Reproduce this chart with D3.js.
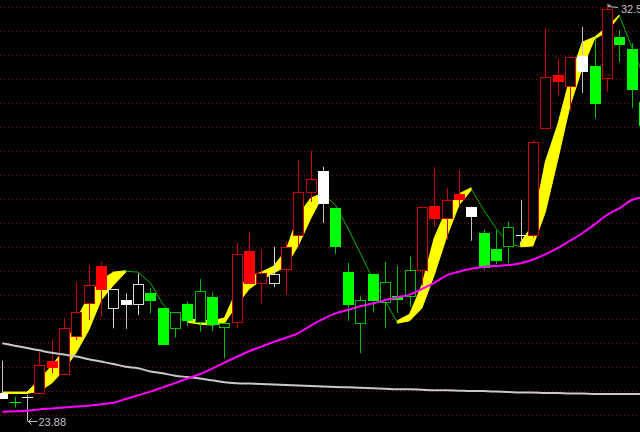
<!DOCTYPE html>
<html>
<head>
<meta charset="utf-8">
<script src="https://cdn.jsdelivr.net/npm/d3@7"></script>
<style>
html, body { margin: 0; padding: 0; background: #000; overflow: hidden; }
</style>
</head>
<body>
<svg id="chart" width="640" height="432"></svg>
<script>
// daily candles, index 0..52
const opens = [24.36, 24.16, 24.26, 24.34, 25.04, 24.76, 25.57, 26.28, 27.07, 26.16,
  26.33, 26.24, 26.48, 26.16, 25.73, 26.24, 25.86, 26.39, 25.75, 25.86,
  27.39, 26.70, 26.70, 27.00, 27.72, 28.65, 29.09, 28.30, 26.93, 25.85,
  26.90, 26.30, 26.41, 26.41, 26.98, 28.34, 28.08, 28.59, 28.33, 27.76,
  27.42, 27.48, 27.72, 27.72, 30.00, 31.14, 30.90, 31.54, 31.32, 31.07,
  31.96, 31.69, 30.57];
const highs = [25.04, 24.27, 24.31, 25.23, 25.48, 25.95, 26.72, 27.08, 27.15, 26.56,
  26.48, 26.90, 26.58, 26.16, 26.08, 26.30, 26.78, 26.50, 25.85, 27.55,
  27.79, 27.41, 27.47, 27.59, 29.32, 29.52, 29.18, 28.30, 27.13, 26.41,
  26.90, 27.15, 27.06, 27.26, 28.31, 29.17, 28.72, 29.12, 28.33, 27.84,
  27.83, 28.00, 28.47, 29.75, 32.13, 31.49, 31.53, 32.17, 31.92, 32.59,
  32.10, 31.82, 30.71];
const lows = [24.23, 24.04, 23.88, 24.34, 24.77, 24.76, 25.48, 25.91, 25.98, 25.73,
  25.72, 26.01, 26.05, 25.38, 25.53, 25.78, 25.66, 25.67, 25.09, 25.73,
  26.69, 26.26, 26.61, 26.45, 27.47, 28.43, 27.98, 27.32, 25.89, 25.20,
  26.07, 25.73, 26.06, 26.19, 26.65, 27.90, 27.62, 28.36, 27.60, 26.98,
  27.10, 27.12, 27.54, 27.67, 30.00, 30.71, 30.39, 30.75, 30.21, 30.78,
  31.42, 30.43, 29.96];
const closes = [24.24, 24.16, 24.26, 24.95, 24.91, 25.74, 26.08, 26.65, 26.58, 26.56,
  26.26, 26.68, 26.33, 25.40, 26.08, 25.90, 26.53, 25.82, 25.85, 27.31,
  26.69, 26.92, 26.88, 27.46, 28.65, 28.91, 28.41, 27.49, 26.26, 26.33,
  26.33, 26.71, 26.35, 26.97, 28.31, 28.08, 28.48, 28.49, 28.13, 27.05,
  27.19, 27.89, 27.72, 29.70, 31.09, 31.00, 31.53, 31.23, 30.53, 32.54,
  31.81, 30.83, 30.07];
// candle colour group: r = red, g = green, w = white
const kinds = ["w","g","w","r","r","r","r","r","r","w",
  "w","w","g","g","g","g","g","g","g","r",
  "r","r","w","r","r","r","w","g","g","g",
  "g","g","g","g","r","r","r","r","w","g",
  "g","g","w","r","r","r","r","w","g","r",
  "g","g","g"];

// trend ribbon (yellow while rising) and falling line (green)
const bandHi = [24.37, 24.37, 24.37, 24.63, 24.93, 25.27, 25.91, 26.42, 26.76, 26.93,
  26.96, null, null, null, null, 25.93, 25.91, 25.89, 25.95, 26.55,
  26.83, 26.93, 27.06, 27.40, 28.15, 28.51, 28.62, null, null, null,
  null, null, 25.89, 26.03, 26.65, 27.66, 28.26, 28.60, 28.73, null,
  null, null, 27.57, 27.94, 29.28, 30.07, 31.07, 31.84, 31.95, 32.16,
  32.42, null, null];
const bandLo = [24.34, 24.34, 24.34, 24.39, 24.56, 24.84, 25.22, 25.69, 26.33, 26.65,
  26.93, null, null, null, null, 25.86, 25.82, 25.80, 25.84, 26.23,
  26.57, 26.76, 26.91, 27.06, 27.51, 28.08, 28.58, null, null, null,
  null, null, 25.84, 25.89, 26.16, 26.87, 27.68, 28.36, 28.68, null,
  null, null, 27.47, 27.49, 28.21, 29.32, 30.48, 31.29, 31.91, 32.06,
  32.40, null, null];
const fallLine = [null, null, null, null, null, null, null, null, null, null,
  26.95, 26.93, 26.70, 26.25, 25.95, 25.89, null, null, null, null,
  null, null, null, null, null, null, 28.60, 28.36, 27.87, 27.34,
  26.80, 26.33, 25.86, null, null, null, null, null, 28.70, 28.26,
  27.87, 27.55, 27.47, null, null, null, null, null, null, null,
  32.41, 31.74, 31.10];

// moving averages
const maPink = [23.95, 23.96, 23.97, 24.00, 24.02, 24.04, 24.06, 24.08, 24.11, 24.14,
  24.22, 24.30, 24.38, 24.47, 24.56, 24.66, 24.75, 24.87, 25.00, 25.12,
  25.24, 25.34, 25.44, 25.53, 25.63, 25.79, 25.93, 26.05, 26.12, 26.20,
  26.26, 26.33, 26.39, 26.45, 26.57, 26.70, 26.86, 26.94, 27.00, 27.04,
  27.06, 27.08, 27.12, 27.20, 27.31, 27.44, 27.60, 27.76, 27.95, 28.15,
  28.29, 28.47, 28.53];
const maGray = [25.41, 25.36, 25.31, 25.26, 25.21, 25.17, 25.13, 25.07, 25.02, 24.97,
  24.91, 24.88, 24.81, 24.77, 24.72, 24.69, 24.66, 24.62, 24.58, 24.56,
  24.55, 24.54, 24.53, 24.52, 24.51, 24.50, 24.49, 24.48, 24.47, 24.46,
  24.45, 24.44, 24.43, 24.43, 24.42, 24.41, 24.41, 24.40, 24.39, 24.39,
  24.38, 24.37, 24.36, 24.36, 24.35, 24.35, 24.34, 24.34, 24.33, 24.33,
  24.33, 24.33, 24.33];

const W = 640, H = 432;
const svg = d3.select("#chart");
svg.append("rect").attr("width", W).attr("height", H).attr("fill", "#000");

const idx = d3.range(opens.length);
const x = d3.scaleLinear().domain([0, 52]).range([2.3, 644]);
const lo = d3.min(lows), hi = d3.max(highs);
const y = d3.scaleLinear().domain([lo, hi]).range([415, 7]);

// dotted grid, 17 equal steps
const gridVals = d3.range(18).map(k => hi - k * (hi - lo) / 17);
svg.append("g").selectAll("line").data(gridVals).join("line")
  .attr("x1", 0).attr("x2", W)
  .attr("y1", d => Math.round(y(d)) + 0.5).attr("y2", d => Math.round(y(d)) + 0.5)
  .attr("stroke", "#8a0000").attr("stroke-dasharray", "1,3");

// yellow ribbon
const area = d3.area()
  .defined(i => bandHi[i] != null)
  .x(i => x(i)).y0(i => y(bandLo[i])).y1(i => y(bandHi[i]));
svg.append("path").attr("d", area(idx))
  .attr("fill", "#ffff00").attr("stroke", "#ffff00").attr("stroke-width", 1);

svg.append("path")
  .attr("d", d3.line().defined(i => fallLine[i] != null).x(i => x(i)).y(i => y(fallLine[i]))(idx))
  .attr("fill", "none").attr("stroke", "#00b400").attr("stroke-width", 1);

// candles
const lineCol = { r: "#d00000", g: "#00c000", w: "#d8d8d8" };
const fillCol = { r: "#ff0000", g: "#00ff00", w: "#ffffff" };

const candle = svg.append("g").selectAll("g").data(idx).join("g");
candle.each(function (i) {
  const g = d3.select(this);
  const px = Math.round(x(i));
  const o = opens[i], c = closes[i], k = kinds[i];
  const up = c > o;
  const top = Math.round(y(Math.max(o, c))), bot = Math.round(y(Math.min(o, c)));
  g.append("line")
    .attr("x1", px + 0.5).attr("x2", px + 0.5)
    .attr("y1", y(highs[i])).attr("y2", y(lows[i]))
    .attr("stroke", up ? lineCol[k] : (k == "w" ? "#c0c0c0" : lineCol[k]));
  if (bot - top < 1) {
    g.append("line")
      .attr("x1", px - 5).attr("x2", px + 6)
      .attr("y1", top + 0.5).attr("y2", top + 0.5)
      .attr("stroke", fillCol[k]).attr("stroke-width", 1);
  } else {
    g.append("rect")
      .attr("x", px - 4.5).attr("y", top + 0.5)
      .attr("width", 10).attr("height", Math.max(1, bot - top))
      .attr("fill", up ? "#000" : fillCol[k])
      .attr("stroke", up ? lineCol[k] : fillCol[k]);
  }
});

// averages on top
svg.append("path")
  .attr("d", d3.line().x(i => x(i)).y(i => y(maGray[i])).curve(d3.curveMonotoneX)(idx))
  .attr("fill", "none").attr("stroke", "#c8c8c8").attr("stroke-width", 2);
svg.append("path")
  .attr("d", d3.line().x(i => x(i)).y(i => y(maPink[i])).curve(d3.curveMonotoneX)(idx))
  .attr("fill", "none").attr("stroke", "#ff00ff").attr("stroke-width", 2);

// high / low markers
const hiI = d3.maxIndex(highs), loI = d3.minIndex(lows);
const mark = svg.append("g").attr("stroke", "#c0c0c0").attr("fill", "none");
const hx = Math.round(x(hiI)) + 1, hy = Math.round(y(hi)) - 0.5;
mark.append("path").attr("d", `M${hx},${hy - 3}L${hx},${hy}L${hx + 3},${hy - 2}M${hx},${hy}L${hx + 10},${hy + 1}`);
const lx = Math.round(x(loI)) + 1.5, ly = Math.round(y(lo)) + 6.5;
mark.append("path").attr("d", `M${lx - 1},${y(lo)}V${ly}M${lx + 3},${ly - 3}L${lx},${ly}L${lx + 3},${ly + 3}M${lx},${ly}H${lx + 9}`);

svg.append("text").attr("x", hx + 13).attr("y", hy + 6)
  .attr("fill", "#c0c0c0").attr("font-family", "Liberation Sans, Arial, sans-serif")
  .attr("font-size", 11).text(d3.format(".2f")(hi));
svg.append("text").attr("x", lx + 10).attr("y", ly + 4.5)
  .attr("fill", "#c0c0c0").attr("font-family", "Liberation Sans, Arial, sans-serif")
  .attr("font-size", 11).text(d3.format(".2f")(lo));
</script>
</body>
</html>
